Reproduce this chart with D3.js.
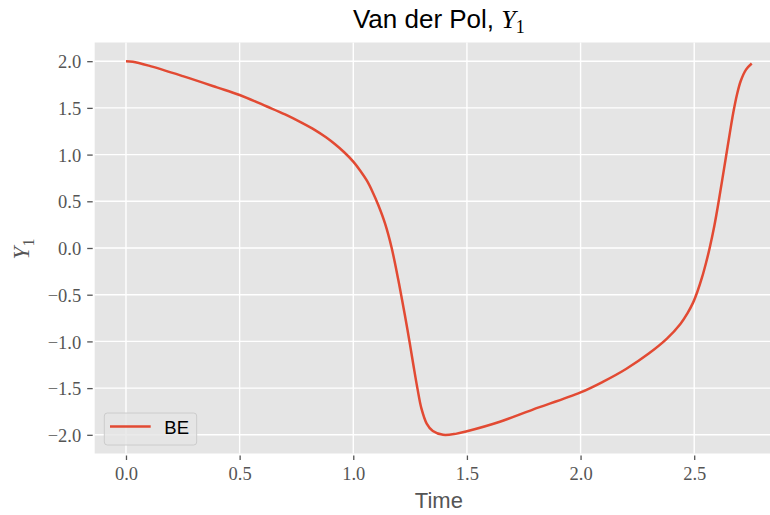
<!DOCTYPE html>
<html>
<head>
<meta charset="utf-8">
<script src="https://cdn.jsdelivr.net/npm/d3@7"></script>
<style>
  body { margin: 0; background: #fff; }
  svg { display: block; overflow: hidden; }
</style>
</head>
<body>
<svg id="chart" width="770" height="515"></svg>
<script>
// BE solution of Van der Pol, first component
var time = [0, 0.03, 0.1, 0.25, 0.4, 0.5, 0.62, 0.7, 0.77, 0.83, 0.88, 0.92, 0.96, 1.0, 1.03, 1.06, 1.085,
  1.11, 1.14, 1.169, 1.198, 1.215, 1.233, 1.25, 1.265, 1.282, 1.3, 1.323, 1.35, 1.395, 1.45, 1.5, 1.645,
  1.79, 2.0, 2.1, 2.2, 2.3, 2.38, 2.44, 2.47, 2.495, 2.515, 2.535, 2.553, 2.568, 2.588, 2.607, 2.624,
  2.64, 2.657, 2.672, 2.688, 2.705, 2.728, 2.753];
var y1 = [2.0, 1.994, 1.952, 1.84, 1.72, 1.638, 1.515, 1.43, 1.345, 1.265, 1.185, 1.11, 1.025, 0.925, 0.83, 0.72, 0.6,
  0.46, 0.26, 0, -0.34, -0.56, -0.8, -1.04, -1.26, -1.5, -1.72, -1.88, -1.96, -2.0, -1.99, -1.962, -1.86,
  -1.73, -1.546, -1.43, -1.295, -1.13, -0.97, -0.81, -0.7, -0.585, -0.46, -0.31, -0.15, 0, 0.23, 0.49, 0.74,
  0.98, 1.235, 1.45, 1.64, 1.79, 1.91, 1.975];
var xTicks = [0, 0.5, 1.0, 1.5, 2.0, 2.5];
var yTicks = [2.0, 1.5, 1.0, 0.5, 0.0, -0.5, -1.0, -1.5, -2.0];
var seriesName = "BE";

var svg = d3.select("#chart");
var ml = 94.7, mt = 42.5, w = 688.3, h = 411;

// matplotlib style 5% margins
var xe = d3.extent(time), ye = d3.extent(y1);
var xp = (xe[1] - xe[0]) * 0.05, yp = (ye[1] - ye[0]) * 0.05;
var x = d3.scaleLinear().domain([xe[0] - xp, xe[1] + xp]).range([ml, ml + w]);
var y = d3.scaleLinear().domain([ye[0] - yp, ye[1] + yp]).range([mt + h, mt]);

var fmt = function(d){ return d3.format(".1f")(d).replace("-", "\u2212"); };
var grey = "#555555";
var serif = "'Liberation Serif', 'DejaVu Serif', serif";
var sans = "'Liberation Sans', Arial, Helvetica, sans-serif";

svg.append("rect").attr("x", ml).attr("y", mt).attr("width", w).attr("height", h).attr("fill", "#e5e5e5");

// grid
svg.selectAll(".vg").data(xTicks).enter().append("line")
  .attr("x1", d => x(d)).attr("x2", d => x(d)).attr("y1", mt).attr("y2", mt + h)
  .attr("stroke", "#fff").attr("stroke-width", 1.4);
svg.selectAll(".hg").data(yTicks).enter().append("line")
  .attr("y1", d => y(d)).attr("y2", d => y(d)).attr("x1", ml).attr("x2", ml + w)
  .attr("stroke", "#fff").attr("stroke-width", 1.4);

// ticks + labels
var xa = svg.append("g").attr("transform", "translate(0," + (mt + h) + ")")
  .call(d3.axisBottom(x).tickValues(xTicks).tickSize(6.5).tickPadding(7).tickFormat(fmt));
var ya = svg.append("g").attr("transform", "translate(" + ml + ",0)")
  .call(d3.axisLeft(y).tickValues(yTicks).tickSize(7.5).tickPadding(6).tickFormat(fmt));
[xa, ya].forEach(function(a){
  a.select(".domain").remove();
  a.selectAll(".tick line").attr("stroke", grey).attr("stroke-width", 1.3);
  a.selectAll(".tick text").attr("fill", grey).attr("font-family", serif).attr("font-size", 18.5);
});
// white axes edge hides tick roots like in the reference
xa.selectAll(".tick line").attr("y1", 2);
ya.selectAll(".tick line").attr("x1", -2);
ya.selectAll(".tick text").attr("dy", "0.36em");
xa.selectAll(".tick text").attr("dy", "0.72em");

// the curve
var pts = time.map((t, i) => [t, y1[i]]);
svg.append("path").datum(pts)
  .attr("d", d3.line().x(d => x(d[0])).y(d => y(d[1])).curve(d3.curveCatmullRom.alpha(0.5)))
  .attr("fill", "none").attr("stroke", "#E24A33").attr("stroke-width", 2.5)
  .attr("stroke-linejoin", "round");

// title
var title = svg.append("text").attr("x", ml + w / 2).attr("y", 28).attr("text-anchor", "middle")
  .attr("font-family", sans).attr("font-size", 26).attr("fill", "#000");
title.append("tspan").text("Van der Pol, ");
title.append("tspan").attr("font-family", serif).attr("font-style", "italic").text("Y");
title.append("tspan").attr("font-family", serif).attr("font-size", 18).attr("dy", 5).text("1");

// axis labels
svg.append("text").attr("x", ml + w / 2).attr("y", 508).attr("text-anchor", "middle")
  .attr("font-family", sans).attr("font-size", 22).attr("fill", grey).text("Time");
var yl = svg.append("text").attr("transform", "translate(29,249) rotate(-90)").attr("text-anchor", "middle")
  .attr("font-family", serif).attr("font-size", 23).attr("fill", grey);
yl.append("tspan").attr("font-style", "italic").text("Y");
yl.append("tspan").attr("font-size", 16).attr("dy", 5).text("1");

// legend
var lg = svg.append("g").attr("transform", "translate(" + (ml + 9.6) + "," + (mt + h - 40.5) + ")");
lg.append("rect").attr("width", 92.4).attr("height", 32).attr("rx", 3)
  .attr("fill", "#e5e5e5").attr("fill-opacity", 0.8).attr("stroke", "#cccccc").attr("stroke-width", 1);
lg.append("line").attr("x1", 5.7).attr("x2", 46.4).attr("y1", 13.4).attr("y2", 13.4)
  .attr("stroke", "#E24A33").attr("stroke-width", 2.5);
lg.append("text").attr("x", 60).attr("y", 20.7).attr("font-family", sans).attr("font-size", 18.5)
  .attr("fill", "#000").text(seriesName);
</script>
</body>
</html>
